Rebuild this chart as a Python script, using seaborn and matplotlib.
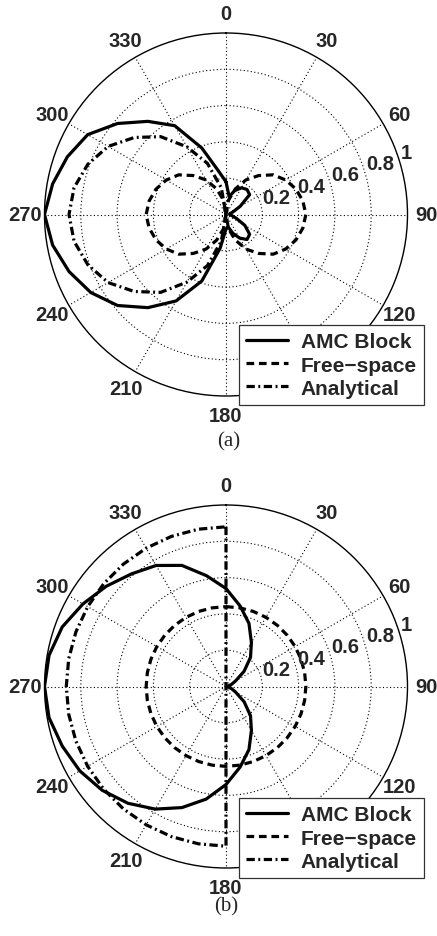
import numpy as np
import matplotlib
matplotlib.use("Agg")
import matplotlib.pyplot as plt
import seaborn as sns
from matplotlib.lines import Line2D

# ---------------- data ----------------
angles_deg = np.arange(0, 361, 10)  # 0..360 step 10

# (a)
amc_a = [0.18, 0.10, 0.14, 0.17, 0.18, 0.17, 0.09, 0.04, 0.02, 0.02,
         0.03, 0.06, 0.12, 0.17, 0.18, 0.15, 0.11, 0.07, 0.08, 0.19,
         0.39, 0.55, 0.67, 0.78, 0.86, 0.92, 0.97, 1.00, 0.97, 0.93,
         0.88, 0.78, 0.67, 0.565, 0.39, 0.245, 0.18]
free_a = [0.00, 0.08, 0.15, 0.22, 0.28, 0.34, 0.38, 0.41, 0.43, 0.44,
          0.43, 0.41, 0.38, 0.34, 0.28, 0.22, 0.15, 0.08, 0.00, 0.08,
          0.15, 0.22, 0.28, 0.34, 0.38, 0.41, 0.43, 0.44, 0.43, 0.41,
          0.38, 0.34, 0.28, 0.22, 0.15, 0.08, 0.00]
anal_a = [0.00, 0.00, 0.00, 0.00, 0.00, 0.00, 0.00, 0.00, 0.00, 0.00,
          0.00, 0.00, 0.00, 0.00, 0.00, 0.00, 0.00, 0.00, 0.00, 0.15,
          0.30, 0.43, 0.56, 0.66, 0.75, 0.81, 0.85, 0.865, 0.85, 0.81,
          0.75, 0.66, 0.56, 0.43, 0.30, 0.15, 0.00]

# (b)
amc_b = [0.54, 0.45, 0.37, 0.28, 0.21, 0.13, 0.06, 0.03, 0.01, 0.00,
         0.01, 0.03, 0.06, 0.13, 0.21, 0.28, 0.37, 0.45, 0.54, 0.63,
         0.71, 0.78, 0.84, 0.89, 0.93, 0.96, 0.99, 1.00, 0.99, 0.96,
         0.91, 0.86, 0.81, 0.77, 0.71, 0.62, 0.54]
free_b = [0.44] * 37
anal_b = [0.88, 0.00, 0.00, 0.00, 0.00, 0.00, 0.00, 0.00, 0.00, 0.00,
          0.00, 0.00, 0.00, 0.00, 0.00, 0.00, 0.00, 0.00, 0.88, 0.88,
          0.88, 0.88, 0.88, 0.88, 0.88, 0.88, 0.88, 0.88, 0.88, 0.88,
          0.88, 0.88, 0.88, 0.88, 0.88, 0.88, 0.88]

series_names = ["AMC Block", "Free\u2212space", "Analytical"]
theta_ticks = [0, 30, 60, 90, 120, 150, 180, 210, 240, 270, 300, 330]
# the 150 label is hidden behind the legend in the reference
theta_labels = ["0", "30", "60", "90", "120", "", "180", "210", "240", "270", "300", "330"]
r_ticks = [0.2, 0.4, 0.6, 0.8, 1.0]
r_labels = ["0.2", "0.4", "0.6", "0.8", "1"]
captions = ["(a)", "(b)"]

# ---------------- style ----------------
sns.set_style("white")
plt.rcParams["font.family"] = ["Liberation Sans", "DejaVu Sans"]
plt.rcParams["font.weight"] = "bold"

LW = 2.3
styles = ["-", (0, (2.4, 1.5)), (0, (2.6, 1.1, 0.6, 1.1))]
grid_ls = (0, (1, 2.2))

fig = plt.figure(figsize=(4.37, 9.37), dpi=100)

W, H = 437.0, 937.0
R = 181.5
centers = [(226.0, 215.5), (226.0, 687.5)]
legend_br = [(424.0, 406.0), (424.0, 879.0)]
caption_pos = [(229.0, 442.0), (226.0, 907.0)]
data_sets = [(amc_a, free_a, anal_a), (amc_b, free_b, anal_b)]

theta_rad = np.deg2rad(angles_deg)
label_r = 1.105

for k in range(2):
    cx, cy = centers[k]
    rect = [(cx - R) / W, 1 - (cy + R) / H, 2 * R / W, 2 * R / H]
    ax = fig.add_axes(rect, projection="polar")
    ax.set_theta_zero_location("N")
    ax.set_theta_direction(-1)
    ax.set_ylim(0, 1)

    for vals, ls in zip(data_sets[k], styles):
        sns.lineplot(x=theta_rad, y=np.asarray(vals), ax=ax, sort=False,
                     estimator=None, color="black", linewidth=LW,
                     linestyle=ls, legend=False)
    ax.set_xlabel("")
    ax.set_ylabel("")

    ax.set_xticks(np.deg2rad(theta_ticks))
    ax.set_xticklabels([])
    ax.set_yticks(r_ticks[:-1])
    ax.set_yticklabels([])
    ax.grid(True, color="black", linewidth=0.8, linestyle=grid_ls)
    ax.spines["polar"].set_linewidth(1.0)
    ax.spines["polar"].set_color("black")

    for tv, lab in zip(theta_ticks, theta_labels):
        if lab:
            ax.text(np.deg2rad(tv), label_r, lab, fontsize=14.5, fontweight="bold",
                    ha="center", va="center", clip_on=False, zorder=4)

    for rv, lab in zip(r_ticks, r_labels):
        ax.text(np.deg2rad(72), rv + 0.01, lab, fontsize=14.5, fontweight="bold",
                ha="left", va="baseline", zorder=4)

    handles = [Line2D([], [], color="black", lw=LW, linestyle=ls) for ls in styles]
    bx, by = legend_br[k]
    leg = ax.legend(handles, series_names, loc="lower right",
                    bbox_to_anchor=(bx / W, 1 - by / H),
                    bbox_transform=fig.transFigure, borderaxespad=0,
                    prop={"size": 15, "weight": "bold"},
                    handlelength=2.0, handletextpad=0.6, labelspacing=0.2,
                    borderpad=0.35, fancybox=False, framealpha=1,
                    edgecolor="#333333")
    leg.get_frame().set_linewidth(0.9)
    leg.set_zorder(10)

    px, py = caption_pos[k]
    fig.text(px / W, 1 - py / H, captions[k], ha="center", va="center",
             fontsize=15, fontweight="normal", family="Liberation Serif")

fig.savefig("out.png", dpi=100)
